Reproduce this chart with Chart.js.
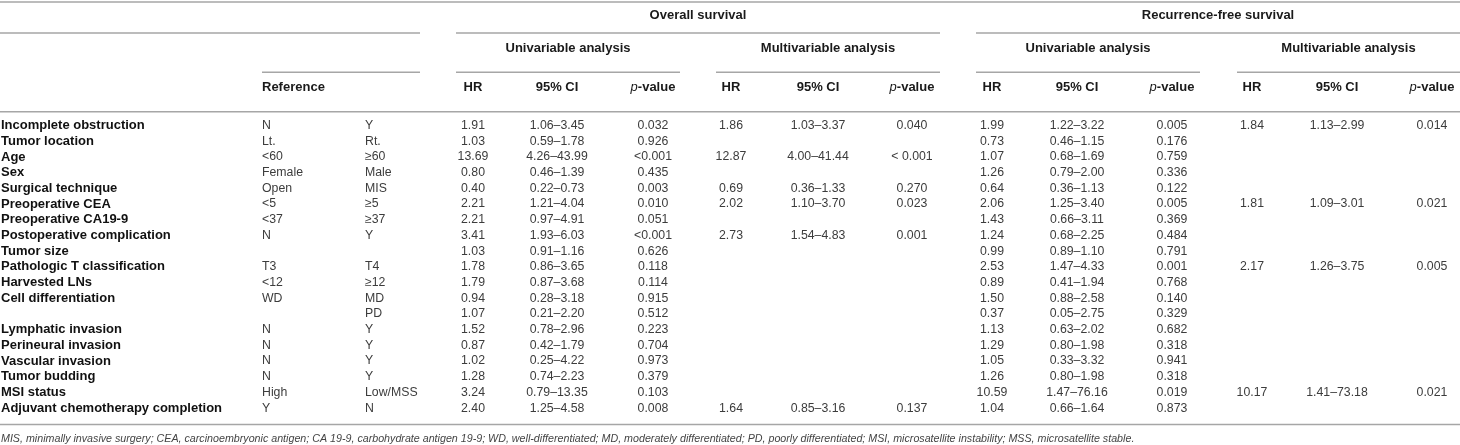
<!DOCTYPE html>
<html>
<head>
<meta charset="utf-8">
<script src="https://cdn.jsdelivr.net/npm/chart.js@4.4.1/dist/chart.umd.min.js"></script>
<style>
  html, body { margin: 0; padding: 0; background: #fff; }
  #wrap { position: relative; width: 1460px; height: 445px; }
</style>
</head>
<body>
<div id="wrap"><canvas id="tableChart"></canvas></div>
<script>
// Table data (one entry per row)
const rowLabels = ['Incomplete obstruction', 'Tumor location', 'Age', 'Sex', 'Surgical technique', 'Preoperative CEA',
  'Preoperative CA19-9', 'Postoperative complication', 'Tumor size', 'Pathologic T classification', 'Harvested LNs',
  'Cell differentiation', '', 'Lymphatic invasion', 'Perineural invasion', 'Vascular invasion', 'Tumor budding',
  'MSI status', 'Adjuvant chemotherapy completion'];
const refLow = ['N', 'Lt.', '<60', 'Female', 'Open', '<5', '<37', 'N', '', 'T3', '<12', 'WD', '', 'N', 'N', 'N', 'N', 'High', 'Y'];
const refHigh = ['Y', 'Rt.', '≥60', 'Male', 'MIS', '≥5', '≥37', 'Y', '', 'T4', '≥12', 'MD', 'PD', 'Y', 'Y', 'Y', 'Y', 'Low/MSS', 'N'];

const osUniHR = ['1.91', '1.03', '13.69', '0.80', '0.40', '2.21', '2.21', '3.41', '1.03', '1.78', '1.79', '0.94', '1.07', '1.52', '0.87', '1.02', '1.28', '3.24', '2.40'];
const osUniCI = ['1.06–3.45', '0.59–1.78', '4.26–43.99', '0.46–1.39', '0.22–0.73', '1.21–4.04', '0.97–4.91', '1.93–6.03', '0.91–1.16', '0.86–3.65',
  '0.87–3.68', '0.28–3.18', '0.21–2.20', '0.78–2.96', '0.42–1.79', '0.25–4.22', '0.74–2.23', '0.79–13.35', '1.25–4.58'];
const osUniP = ['0.032', '0.926', '<0.001', '0.435', '0.003', '0.010', '0.051', '<0.001', '0.626', '0.118', '0.114', '0.915', '0.512', '0.223', '0.704', '0.973', '0.379', '0.103', '0.008'];

const osMultiHR = ['1.86', '', '12.87', '', '0.69', '2.02', '', '2.73', '', '', '', '', '', '', '', '', '', '', '1.64'];
const osMultiCI = ['1.03–3.37', '', '4.00–41.44', '', '0.36–1.33', '1.10–3.70', '', '1.54–4.83', '', '', '', '', '', '', '', '', '', '', '0.85–3.16'];
const osMultiP = ['0.040', '', '< 0.001', '', '0.270', '0.023', '', '0.001', '', '', '', '', '', '', '', '', '', '', '0.137'];

const rfsUniHR = ['1.99', '0.73', '1.07', '1.26', '0.64', '2.06', '1.43', '1.24', '0.99', '2.53', '0.89', '1.50', '0.37', '1.13', '1.29', '1.05', '1.26', '10.59', '1.04'];
const rfsUniCI = ['1.22–3.22', '0.46–1.15', '0.68–1.69', '0.79–2.00', '0.36–1.13', '1.25–3.40', '0.66–3.11', '0.68–2.25', '0.89–1.10', '1.47–4.33',
  '0.41–1.94', '0.88–2.58', '0.05–2.75', '0.63–2.02', '0.80–1.98', '0.33–3.32', '0.80–1.98', '1.47–76.16', '0.66–1.64'];
const rfsUniP = ['0.005', '0.176', '0.759', '0.336', '0.122', '0.005', '0.369', '0.484', '0.791', '0.001', '0.768', '0.140', '0.329', '0.682', '0.318', '0.941', '0.318', '0.019', '0.873'];

const rfsMultiHR = ['1.84', '', '', '', '', '1.81', '', '', '', '2.17', '', '', '', '', '', '', '', '10.17', ''];
const rfsMultiCI = ['1.13–2.99', '', '', '', '', '1.09–3.01', '', '', '', '1.26–3.75', '', '', '', '', '', '', '', '1.41–73.18', ''];
const rfsMultiP = ['0.014', '', '', '', '', '0.021', '', '', '', '0.005', '', '', '', '', '', '', '', '0.021', ''];

// Header texts
const survivalTitles = ['Overall survival', 'Recurrence-free survival'];
const analysisTitles = ['Univariable analysis', 'Multivariable analysis', 'Univariable analysis', 'Multivariable analysis'];
const statTitles = ['HR', '95% CI', 'p-value'];
const referenceTitle = 'Reference';
const footnote = 'MIS, minimally invasive surgery; CEA, carcinoembryonic antigen; CA 19-9, carbohydrate antigen 19-9; WD, well-differentiated; ' +
  'MD, moderately differentiated; PD, poorly differentiated; MSI, microsatellite instability; MSS, microsatellite stable.';

// Layout (x in table units = px, y in row units)
const GROUPS = [[456, 680], [716, 940], [976, 1200], [1237, 1460]];
const STAT_X = [[473, 557, 653], [731, 818, 912], [992, 1077, 1172], [1252, 1337, 1432]];
const Y_SURV = -7.0, Y_ANALYSIS = -4.9, Y_STAT = -2.42, Y_FOOT = 20.0;
const LINE_COLOR = '#a6a6a6';

const labelFont = 'bold 13px "Liberation Sans", Arial, sans-serif';
const valueFont = '12.3px "Liberation Sans", Arial, sans-serif';
const headFont = 'bold 13px "Liberation Sans", Arial, sans-serif';

const datasets = [];

function rule(x0, x1, y, w) {
  datasets.push({
    type: 'line', data: [{ x: x0, y: y }, { x: x1, y: y }],
    borderColor: LINE_COLOR, borderWidth: w || 1.5, pointRadius: 0, fill: false
  });
}

function textCol(texts, xs, ys, font, color, align) {
  datasets.push({
    type: 'scatter',
    data: texts.map((t, i) => ({ x: Array.isArray(xs) ? xs[i] : xs, y: Array.isArray(ys) ? ys[i] : ys })),
    texts: texts, font: font, color: color, align: align || 'center', pointRadius: 0
  });
}

// rules
rule(0, 1460, -7.88);
rule(0, 420, -5.9);
rule(456, 940, -5.9);
rule(976, 1460, -5.9);
rule(262, 420, -3.4);
GROUPS.forEach(g => rule(g[0], g[1], -3.4));
rule(0, 1460, -0.88);
rule(0, 1460, 19.05);

const rowIdx = rowLabels.map((_, i) => i);

// body
textCol(rowLabels, 1, rowIdx, labelFont, '#111', 'left');
textCol(refLow, 262, rowIdx, valueFont, '#3c3c3c', 'left');
textCol(refHigh, 365, rowIdx, valueFont, '#3c3c3c', 'left');
const cols = [[osUniHR, osUniCI, osUniP], [osMultiHR, osMultiCI, osMultiP], [rfsUniHR, rfsUniCI, rfsUniP], [rfsMultiHR, rfsMultiCI, rfsMultiP]];
cols.forEach((grp, g) => grp.forEach((arr, k) => textCol(arr, STAT_X[g][k], rowIdx, valueFont, '#3c3c3c', 'center')));

// headers
textCol(survivalTitles, [(GROUPS[0][0] + GROUPS[1][1]) / 2, (GROUPS[2][0] + GROUPS[3][1]) / 2], Y_SURV, headFont, '#1a1a1a');
textCol(analysisTitles, GROUPS.map(g => (g[0] + g[1]) / 2), Y_ANALYSIS, headFont, '#1a1a1a');
textCol([referenceTitle], 262, Y_STAT, headFont, '#1a1a1a', 'left');
STAT_X.forEach(xs => textCol(statTitles, xs, Y_STAT, headFont, '#1a1a1a'));
textCol([footnote], 1, Y_FOOT, 'italic 10.7px "Liberation Sans", Arial, sans-serif', '#444', 'left');

// draws the text of each point
const cellText = {
  id: 'cellText',
  afterDatasetsDraw(chart) {
    const ctx = chart.ctx;
    chart.data.datasets.forEach((ds, i) => {
      if (!ds.texts) return;
      const meta = chart.getDatasetMeta(i);
      ctx.save();
      ctx.fillStyle = ds.color;
      ctx.textBaseline = 'middle';
      meta.data.forEach((pt, j) => {
        const t = ds.texts[j];
        if (!t) return;
        if (t === 'p-value') {
          ctx.font = ds.font.replace('bold', 'italic');
          const w1 = ctx.measureText('p').width;
          ctx.font = ds.font;
          const w2 = ctx.measureText('-value').width;
          const x0 = pt.x - (w1 + w2) / 2;
          ctx.textAlign = 'left';
          ctx.font = ds.font.replace('bold', 'italic');
          ctx.fillText('p', x0, pt.y);
          ctx.font = ds.font;
          ctx.fillText('-value', x0 + w1, pt.y);
          return;
        }
        ctx.font = ds.font;
        ctx.textAlign = ds.align;
        ctx.fillText(t, pt.x, pt.y);
      });
      ctx.restore();
    });
  }
};

new Chart(document.getElementById('tableChart'), {
  type: 'scatter',
  data: { datasets: datasets },
  options: {
    responsive: true,
    maintainAspectRatio: false,
    animation: false,
    events: [],
    layout: { padding: 0 },
    plugins: { legend: { display: false }, tooltip: { enabled: false } },
    scales: {
      x: { type: 'linear', min: 0, max: 1460, display: false },
      y: { type: 'linear', min: -8.0, max: 20.35, reverse: true, display: false }
    }
  },
  plugins: [cellText]
});
</script>
</body>
</html>
